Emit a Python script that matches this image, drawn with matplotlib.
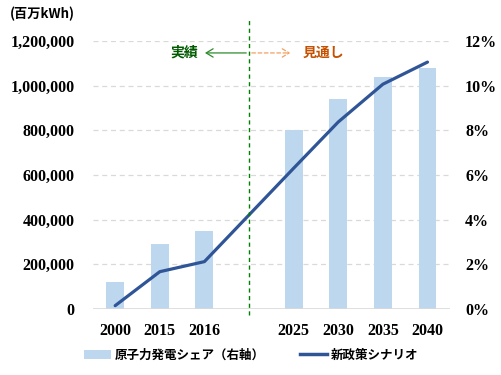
import numpy as np
import matplotlib.pyplot as plt
from matplotlib.patches import Patch
from matplotlib.lines import Line2D

plt.rcParams['font.family'] = ['Liberation Serif', 'Noto Sans CJK JP']
plt.rcParams['font.weight'] = 'bold'

# data
years = ['2000', '2015', '2016', '', '2025', '2030', '2035', '2040']
share = [1.2, 2.9, 3.5, np.nan, 8.0, 9.4, 10.4, 10.8]          # % (right axis)
gen = [15000, 167000, 212000, np.nan, 630000, 837000, 1006000, 1105000]  # million kWh

x = np.arange(len(years))
gen = np.array(gen)
ok = ~np.isnan(gen)

fig = plt.figure(figsize=(5.02, 3.75), dpi=100)
ax = fig.add_axes([0.185, 0.176, 0.711, 0.715])
ax2 = ax.twinx()

# bars + grid on the right axis (behind)
ax2.bar(x, share, width=0.4, color='#BDD7EE', zorder=2)
ax2.set_ylim(0, 12)
ax2.set_yticks(range(0, 13, 2))
ax2.set_yticklabels([f'{v}%' for v in range(0, 13, 2)])
for v in range(2, 13, 2):
    ax2.axhline(v, color='#D9D9D9', lw=0.9, ls=(0, (4, 3)), zorder=1)
ax2.axhline(0, color='#D9D9D9', lw=1.2, zorder=3)

# line on the left axis (front)
ax.set_zorder(ax2.get_zorder() + 1)
ax.patch.set_visible(False)
ax.plot(x[ok], gen[ok], color='#2F5597', lw=2.3, solid_capstyle='round')
ax.set_ylim(0, 1200000)
ax.set_yticks(range(0, 1200001, 200000))
ax.set_yticklabels([f'{v:,}' for v in range(0, 1200001, 200000)])
ax.set_xlim(-0.5, len(years) - 0.5)
ax.set_xticks(x)
ax.set_xticklabels(years)

for a in (ax, ax2):
    for s in a.spines.values():
        s.set_visible(False)
    a.tick_params(length=0, labelsize=11.5, colors='black')
ax.tick_params(axis='y', pad=13)
ax.tick_params(axis='x', pad=10)
ax2.tick_params(axis='y', pad=11)

# divider between actual / outlook
ax.axvline(3, ymin=-0.022, ymax=1.078, color='#008000', lw=1, ls=(0, (3, 2.5)), clip_on=False)
ya = 1146000
ax.annotate('', xy=(1.95, ya), xytext=(3, ya),
            arrowprops=dict(arrowstyle='->,head_length=0.5,head_width=0.3',
                            color='#2E8B2E', lw=0.9))
ax.text(1.55, ya, '実績', color='#005A00', fontsize=10, ha='center', va='center',
        fontweight='bold', family=['Noto Sans CJK JP'])
ax.annotate('', xy=(3.99, ya), xytext=(3, ya),
            arrowprops=dict(arrowstyle='->,head_length=0.5,head_width=0.3',
                            color='#F4A060', lw=0.9, ls=(0, (3, 2))))
ax.text(4.2, ya, '見通し', color='#C65000', fontsize=10, ha='left', va='center',
        fontweight='bold', family=['Noto Sans CJK JP'])

fig.text(0.02, 0.962, '(百万kWh)', fontsize=9.5, ha='left', va='center',
         family=['Noto Sans CJK JP'], fontweight='bold')

handles = [Patch(facecolor='#BDD7EE'), Line2D([0], [0], color='#2F5597', lw=2.5)]
labels = ['原子力発電シェア（右軸）', '新政策シナリオ']
fig.legend(handles, labels, loc='center', bbox_to_anchor=(0.5, 0.053), ncol=2,
           frameon=False, prop={'family': ['Noto Sans CJK JP'], 'weight': 'bold', 'size': 9},
           handlelength=2.2, handleheight=0.7, columnspacing=2.8, handletextpad=0.3)

fig.savefig('out.png', dpi=100)
